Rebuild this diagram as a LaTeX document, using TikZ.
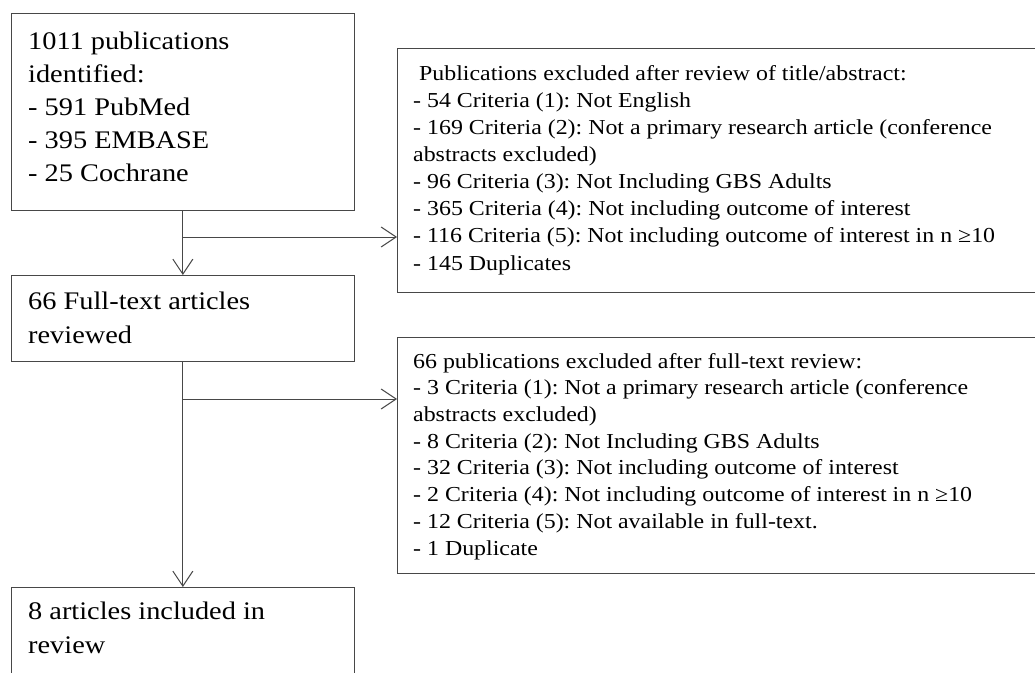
\documentclass[tikz,border=0pt]{standalone}
\usepackage{fontspec}
\setmainfont{Liberation Serif}[FakeStretch=1.12]
\usetikzlibrary{arrows.meta}
\frenchspacing
\tikzset{
  box/.style={draw=black!72, line width=1bp, rectangle, inner sep=0pt, anchor=north west},
  ltext/.style={anchor=base west, inner sep=0pt, align=left, font=\fontsize{25.4}{33.3}\selectfont, text=black},
  rtext/.style={anchor=base west, inner sep=0pt, align=left, font=\fontsize{21.4}{27.2}\selectfont, text=black},
  conn/.style={draw=black!72, line width=1bp, -{Straight Barb[length=15bp,width=20bp]}},
}
\begin{document}
\begin{tikzpicture}[x=1bp,y=-1bp]
\useasboundingbox (0,0) rectangle (1035,673);
\clip (0,0) rectangle (1035,673);
\fill[white] (0,0) rectangle (1035,673);
% left boxes
\node[box, minimum width=343.3bp, minimum height=196.7bp] (b1) at (10.7,13.3) {};
\node[box, minimum width=343.3bp, minimum height=86bp] (b2) at (10.7,275) {};
\node[box, minimum width=343.3bp, minimum height=120bp] (b3) at (10.7,587) {};
% right boxes
\node[box, minimum width=660bp, minimum height=244bp] (r1) at (397,48) {};
\node[box, minimum width=660bp, minimum height=236bp] (r2) at (397,337) {};
% texts (anchored at the baseline of their last line)
\node[ltext] (t1) at (28,182) {1011 publications\\identified:\\- 591 PubMed\\- 395 EMBASE\\- 25 Cochrane};
\node[ltext] (t2) at (28,343) {66 Full-text articles\\reviewed};
\node[ltext] (t3) at (28,653) {8 articles included in\\review};
\node[rtext] (t4) at (413,270) {\hspace{6bp}Publications excluded after review of title/abstract:\\
- 54 Criteria (1): Not English\\
- 169 Criteria (2): Not a primary research article (conference\\
abstracts excluded)\\
- 96 Criteria (3): Not Including GBS Adults\\
- 365 Criteria (4): Not including outcome of interest\\
- 116 Criteria (5): Not including outcome of interest in n ≥10\\
- 145 Duplicates};
\node[rtext, font=\fontsize{21.4}{26.8}\selectfont] (t5) at (413,555) {66 publications excluded after full-text review:\\
- 3 Criteria (1): Not a primary research article (conference\\
abstracts excluded)\\
- 8 Criteria (2): Not Including GBS Adults\\
- 32 Criteria (3): Not including outcome of interest\\
- 2 Criteria (4): Not including outcome of interest in n ≥10\\
- 12 Criteria (5): Not available in full-text.\\
- 1 Duplicate};
% connectors
\draw[conn] (b1.south) -- (b2.north);
\draw[conn] (b2.south) -- (b3.north);
\coordinate (j1) at (b1.south |- 0,237);
\coordinate (j2) at (b2.south |- 0,399);
\draw[conn] (j1) -- (j1 -| r1.west);
\draw[conn] (j2) -- (j2 -| r2.west);
\end{tikzpicture}
\end{document}
